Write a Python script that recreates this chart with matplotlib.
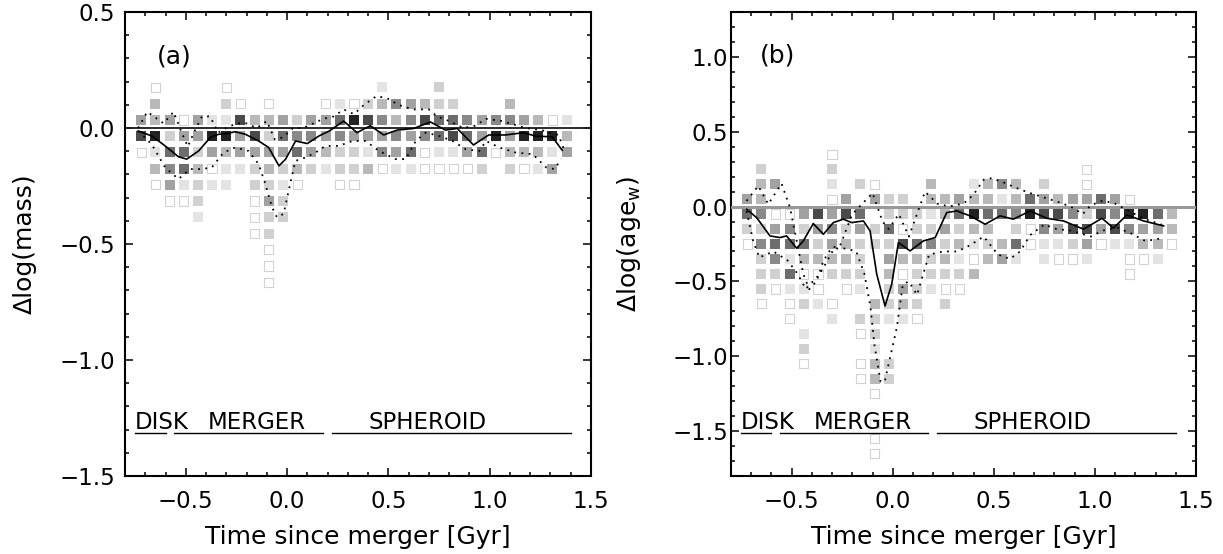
import numpy as np
import matplotlib.pyplot as plt
from matplotlib.ticker import MultipleLocator, FuncFormatter

plt.rcParams['font.family'] = 'DejaVu Sans'

# bin centres of the 2D histograms
time_bins = [-0.72, -0.65, -0.58, -0.51, -0.44, -0.37, -0.30, -0.23, -0.16, -0.09,
             -0.02, 0.05, 0.12, 0.19, 0.26, 0.33, 0.40, 0.47, 0.54, 0.61, 0.68,
             0.75, 0.82, 0.89, 0.96, 1.03, 1.10, 1.17, 1.24, 1.31, 1.38]
mass_bins = [0.175, 0.105, 0.035, -0.035, -0.105, -0.175, -0.245, -0.315,
             -0.385, -0.455, -0.525, -0.595, -0.665]
age_bins = [0.35, 0.25, 0.15, 0.05, -0.05, -0.15, -0.25, -0.35, -0.45, -0.55, -0.65,
            -0.75, -0.85, -0.95, -1.05, -1.15, -1.25, -1.35, -1.45, -1.55, -1.65]

# grey level of each cell (0 empty, 1 open square, 2..9 light -> dark)
mass_levels = [
    [0,1,0,0,0,0,1,0,0,0,0,0,0,0,0,0,0,2,0,0,0,3,0,0,0,0,0,0,0,0,0],
    [0,4,0,0,0,0,3,1,0,1,0,0,0,1,2,1,3,4,6,5,4,3,3,0,0,0,4,0,0,0,0],
    [5,4,5,1,5,2,2,8,4,4,5,3,5,5,7,9,8,6,4,6,8,7,7,6,5,6,6,5,4,1,2],
    [8,9,3,5,5,9,9,5,8,3,7,6,6,5,6,5,5,5,6,5,6,7,8,7,5,9,5,9,9,9,4],
    [1,2,7,7,3,5,4,5,5,5,5,7,5,4,3,3,2,6,5,7,1,2,2,5,7,1,4,4,4,2,5],
    [0,4,6,7,4,1,2,2,3,4,3,4,3,2,3,3,4,1,2,2,1,1,1,1,3,0,3,1,2,5,0],
    [0,1,5,2,3,2,2,0,3,3,2,1,0,0,1,1,0,0,0,0,0,0,0,0,0,0,0,0,0,0,0],
    [0,0,1,1,3,0,0,0,1,5,3,0,0,0,0,0,0,0,0,0,0,0,0,0,0,0,0,0,0,0,0],
    [0,0,0,0,2,0,0,0,1,3,3,0,0,0,0,0,0,0,0,0,0,0,0,0,0,0,0,0,0,0,0],
    [0,0,0,0,0,0,0,0,1,3,0,0,0,0,0,0,0,0,0,0,0,0,0,0,0,0,0,0,0,0,0],
    [0,0,0,0,0,0,0,0,0,1,0,0,0,0,0,0,0,0,0,0,0,0,0,0,0,0,0,0,0,0,0],
    [0,0,0,0,0,0,0,0,0,1,0,0,0,0,0,0,0,0,0,0,0,0,0,0,0,0,0,0,0,0,0],
    [0,0,0,0,0,0,0,0,0,1,0,0,0,0,0,0,0,0,0,0,0,0,0,0,0,0,0,0,0,0,0],
]
age_levels = [
    [0,0,0,0,0,0,1,0,0,0,0,0,0,0,0,0,0,0,0,0,0,0,0,0,0,0,0,0,0,0,0],
    [0,3,0,0,0,0,3,0,0,0,0,0,0,0,0,0,0,0,0,0,0,0,0,0,1,0,0,0,0,0,0],
    [0,4,5,0,0,0,2,0,3,1,0,0,0,4,0,0,2,4,6,4,0,3,0,0,1,0,0,0,0,0,0],
    [5,4,0,0,0,0,1,5,0,5,3,3,0,4,4,5,4,4,2,4,7,5,4,5,5,7,5,1,0,0,0],
    [7,6,1,1,5,8,5,8,7,0,3,3,3,2,4,7,9,7,7,6,9,8,8,6,3,8,6,9,9,7,4],
    [3,3,5,6,3,5,6,3,5,3,7,1,3,3,5,3,4,4,0,3,1,6,5,8,8,5,8,6,5,5,4],
    [1,6,7,7,7,3,5,4,3,3,3,8,7,6,3,4,2,3,4,7,1,2,2,3,5,1,2,2,4,4,1],
    [0,3,6,2,4,4,4,4,3,0,5,4,4,3,4,2,1,4,5,2,0,2,1,1,2,0,0,1,1,2,0],
    [0,3,3,7,1,1,3,3,3,0,4,1,3,3,3,3,4,0,0,0,0,0,0,0,0,0,0,1,0,0,0],
    [0,3,1,2,2,1,0,1,2,0,3,5,3,2,1,1,0,0,0,0,0,0,0,0,0,0,0,0,0,0,0],
    [0,1,0,1,3,2,1,0,0,4,3,4,3,0,3,0,0,0,0,0,0,0,0,0,0,0,0,0,0,0,0],
    [0,0,0,1,0,0,2,0,3,3,2,2,1,0,0,0,0,0,0,0,0,0,0,0,0,0,0,0,0,0,0],
    [0,0,0,0,2,0,0,0,1,3,0,0,0,0,0,0,0,0,0,0,0,0,0,0,0,0,0,0,0,0,0],
    [0,0,0,0,3,0,0,0,0,2,0,0,0,0,0,0,0,0,0,0,0,0,0,0,0,0,0,0,0,0,0],
    [0,0,0,0,1,0,0,0,1,4,3,0,0,0,0,0,0,0,0,0,0,0,0,0,0,0,0,0,0,0,0],
    [0,0,0,0,0,0,0,0,1,4,3,0,0,0,0,0,0,0,0,0,0,0,0,0,0,0,0,0,0,0,0],
    [0,0,0,0,0,0,0,0,0,1,0,0,0,0,0,0,0,0,0,0,0,0,0,0,0,0,0,0,0,0,0],
    [0,0,0,0,0,0,0,0,0,0,0,0,0,0,0,0,0,0,0,0,0,0,0,0,0,0,0,0,0,0,0],
    [0,0,0,0,0,0,0,0,0,1,0,0,0,0,0,0,0,0,0,0,0,0,0,0,0,0,0,0,0,0,0],
    [0,0,0,0,0,0,0,0,0,1,0,0,0,0,0,0,0,0,0,0,0,0,0,0,0,0,0,0,0,0,0],
    [0,0,0,0,0,0,0,0,0,1,0,0,0,0,0,0,0,0,0,0,0,0,0,0,0,0,0,0,0,0,0],
]

# median and spread curves, panel (a)
mass_med_t = [-0.735, -0.668, -0.602, -0.536, -0.495, -0.437, -0.379, -0.338, -0.297, -0.256,
              -0.206, -0.140, -0.091, -0.040, -0.007, 0.042, 0.100, 0.158, 0.208, 0.279,
              0.345, 0.411, 0.477, 0.543, 0.625, 0.708, 0.782, 0.840, 0.920, 0.995,
              1.078, 1.169, 1.226, 1.309, 1.358]
mass_med = [-0.013, -0.034, -0.077, -0.124, -0.134, -0.099, -0.041, -0.027, -0.024, -0.016,
            -0.027, -0.056, -0.084, -0.163, -0.134, -0.056, -0.067, -0.034, -0.013, 0.030,
            -0.020, 0.010, -0.030, -0.009, -0.002, 0.026, -0.009, -0.002, -0.073, -0.030,
            -0.030, -0.020, -0.035, -0.038, -0.096]
mass_hi_t = [-0.735, -0.69, -0.65, -0.61, -0.56, -0.52, -0.49, -0.46, -0.42, -0.38,
             -0.34, -0.30, -0.25, -0.20, -0.15, -0.10, -0.06, -0.02, 0.03, 0.08,
             0.13, 0.18, 0.23, 0.28, 0.33, 0.38, 0.44, 0.49, 0.55, 0.62, 0.70, 0.74,
             0.80, 0.87, 0.93, 0.98, 1.06, 1.12, 1.18, 1.26, 1.34, 1.37]
mass_hi = [0.0, 0.07, 0.045, 0.02, 0.07, -0.02, -0.08, -0.02, 0.05, 0.05,
           -0.02, 0.0, 0.02, 0.02, 0.0, 0.03, -0.05, -0.04, 0.0, 0.0,
           0.02, 0.04, 0.05, 0.08, 0.06, 0.10, 0.137, 0.13, 0.10, 0.08, 0.08, 0.05,
           0.03, 0.0, 0.01, 0.04, 0.03, 0.015, 0.0, -0.01, -0.03, -0.10]
mass_lo_t = [-0.734, -0.668, -0.602, -0.536, -0.479, -0.421, -0.371, -0.314, -0.256, -0.190,
             -0.140, -0.107, -0.074, -0.050, -0.017, 0.008, 0.041, 0.091, 0.140, 0.190,
             0.256, 0.322, 0.388, 0.454, 0.536, 0.586, 0.635, 0.685, 0.751, 0.817,
             0.883, 0.949, 0.982, 1.048, 1.130, 1.213, 1.279, 1.320, 1.353]
mass_lo = [-0.013, -0.070, -0.170, -0.220, -0.177, -0.177, -0.170, -0.106, -0.084, -0.099,
           -0.156, -0.242, -0.342, -0.385, -0.370, -0.270, -0.142, -0.127, -0.106, -0.077,
           -0.077, -0.056, -0.056, -0.099, -0.134, -0.134, -0.056, -0.020, -0.034, -0.056,
           -0.092, -0.099, -0.056, -0.084, -0.106, -0.113, -0.170, -0.177, -0.134]

# panel (b)
age_med_t = [-0.722, -0.673, -0.607, -0.558, -0.525, -0.475, -0.442, -0.393, -0.343, -0.294,
             -0.244, -0.203, -0.145, -0.112, -0.079, -0.038, -0.005, 0.028, 0.086, 0.152,
             0.210, 0.267, 0.317, 0.383, 0.457, 0.531, 0.597, 0.680, 0.762, 0.845,
             0.944, 1.035, 1.092, 1.158, 1.241, 1.340]
age_med = [-0.018, -0.074, -0.196, -0.207, -0.196, -0.278, -0.229, -0.113, -0.185, -0.107,
           -0.084, -0.107, -0.096, -0.162, -0.452, -0.664, -0.519, -0.241, -0.296, -0.229,
           -0.207, -0.040, -0.029, -0.062, -0.118, -0.062, -0.084, -0.029, -0.078, -0.096,
           -0.151, -0.078, -0.144, -0.056, -0.096, -0.129]
age_hi_t = [-0.723, -0.665, -0.616, -0.550, -0.508, -0.475, -0.442, -0.413, -0.376, -0.343,
            -0.302, -0.261, -0.20, -0.10, -0.05, -0.02, 0.03, 0.08, 0.12, 0.16,
            0.22, 0.28, 0.35, 0.40, 0.45, 0.49, 0.55, 0.62, 0.68, 0.75, 0.82, 0.88,
            0.94, 0.98, 1.04, 1.10, 1.17, 1.24, 1.33]
age_hi = [0.038, 0.138, 0.016, 0.154, -0.007, -0.229, -0.452, -0.552, -0.497, -0.363,
          -0.274, -0.263, -0.05, 0.09, -0.10, -0.15, -0.05, -0.20, -0.05, 0.10,
          0.02, 0.0, 0.02, 0.08, 0.18, 0.19, 0.16, 0.12, 0.09, 0.06, 0.03, 0.0,
          -0.05, 0.01, 0.04, 0.02, -0.03, -0.08, -0.12]
age_lo_t = [-0.723, -0.69, -0.66, -0.59, -0.52, -0.47, -0.43, -0.36, -0.29, -0.23,
            -0.18, -0.14, -0.11, -0.09, -0.06, -0.04, -0.01, 0.02, 0.05, 0.08,
            0.12, 0.18, 0.25, 0.32, 0.38, 0.45, 0.52, 0.58, 0.63, 0.68, 0.75,
            0.81, 0.88, 0.93, 0.98, 1.04, 1.11, 1.18, 1.25, 1.34]
age_lo = [-0.03, -0.23, -0.34, -0.30, -0.36, -0.45, -0.55, -0.45, -0.28, -0.28,
          -0.30, -0.45, -0.67, -0.93, -1.17, -1.17, -0.99, -0.81, -0.52, -0.50,
          -0.59, -0.32, -0.30, -0.30, -0.26, -0.20, -0.32, -0.35, -0.30, -0.19, -0.12,
          -0.15, -0.16, -0.18, -0.20, -0.16, -0.14, -0.18, -0.23, -0.21]

phase_names = ['DISK', 'MERGER', 'SPHEROID']
phase_start = [-0.75, -0.56, 0.22]
phase_end = [-0.60, 0.175, 1.40]
phase_text_x = [-0.75, -0.39, 0.40]

greys = {2: '#e3e3e3', 3: '#d0d0d0', 4: '#b9b9b9', 5: '#a2a2a2', 6: '#898989',
         7: '#6d6d6d', 8: '#4a4a4a', 9: '#222222'}


def draw_cells(ax, ybins, levels):
    for yv, row in zip(ybins, levels):
        for tv, lev in zip(time_bins, row):
            if lev == 1:
                ax.scatter(tv, yv, s=44, marker='s', facecolor='none',
                           edgecolor='#d2d2d2', linewidths=0.8, zorder=2)
            elif lev > 1:
                ax.scatter(tv, yv, s=52, marker='s', color=greys[lev],
                           linewidths=0, zorder=2)


def style_axes(ax, ylim):
    ax.set_xlim(-0.8, 1.5)
    ax.set_ylim(*ylim)
    ax.xaxis.set_major_locator(MultipleLocator(0.5))
    ax.xaxis.set_minor_locator(MultipleLocator(0.1))
    ax.yaxis.set_major_locator(MultipleLocator(0.5))
    ax.yaxis.set_minor_locator(MultipleLocator(0.1))
    fmt = FuncFormatter(lambda v, p: ('%.1f' % v).replace('-', '\u2212'))
    ax.xaxis.set_major_formatter(fmt)
    ax.yaxis.set_major_formatter(fmt)
    ax.tick_params(which='both', direction='in', top=True, right=True,
                   labelsize=16.5, width=1.1)
    ax.tick_params(which='major', length=6)
    ax.tick_params(which='minor', length=3.2)
    ax.tick_params(axis='x', pad=10)
    for sp in ax.spines.values():
        sp.set_linewidth(1.5)
    ax.set_xlabel('Time since merger [Gyr]', fontsize=18)
    ax.xaxis.set_label_coords(0.5, -0.105)


def draw_phases(ax):
    tr = ax.get_xaxis_transform()
    for name, t0, t1, tx in zip(phase_names, phase_start, phase_end, phase_text_x):
        ax.plot([t0, t1], [0.093, 0.093], color='black', lw=1.0, transform=tr)
        ax.text(tx, 0.101, name, fontsize=16.5, transform=tr, ha='left',
                va='baseline')


dots = (0, (1, 3))

fig = plt.figure(figsize=(12.23, 5.54), dpi=100)
ax1 = fig.add_axes([0.1022, 0.1408, 0.3810, 0.8375])
ax2 = fig.add_axes([0.5977, 0.1408, 0.3802, 0.8375])

# panel (a)
draw_cells(ax1, mass_bins, mass_levels)
ax1.axhline(0, color='#1a1a1a', lw=1.3, zorder=3)
ax1.plot(mass_med_t, mass_med, color='black', lw=1.2, zorder=4)
ax1.plot(mass_hi_t, mass_hi, color='black', lw=1.3, ls=dots, zorder=4)
ax1.plot(mass_lo_t, mass_lo, color='black', lw=1.3, ls=dots, zorder=4)
style_axes(ax1, (-1.5, 0.5))
ax1.tick_params(axis='y', pad=7)
ax1.set_ylabel('\u0394log(mass)', fontsize=18)
ax1.yaxis.set_label_coords(-0.19, 0.5)
ax1.text(0.105, 0.905, '(a)', transform=ax1.transAxes, fontsize=18,
         ha='center', va='center')
draw_phases(ax1)

# panel (b)
draw_cells(ax2, age_bins, age_levels)
ax2.axhline(0, color='#999999', lw=2.2, zorder=3)
ax2.plot(age_med_t, age_med, color='black', lw=1.2, zorder=4)
ax2.plot(age_hi_t, age_hi, color='black', lw=1.3, ls=dots, zorder=4)
ax2.plot(age_lo_t, age_lo, color='black', lw=1.3, ls=dots, zorder=4)
style_axes(ax2, (-1.8, 1.3))
ax2.tick_params(axis='y', pad=2)
ax2.set_ylabel('\u0394log(age$_\\mathregular{w}$)', fontsize=18)
ax2.yaxis.set_label_coords(-0.19, 0.5)
ax2.text(0.101, 0.907, '(b)', transform=ax2.transAxes, fontsize=18,
         ha='center', va='center')
draw_phases(ax2)

fig.savefig('out.png', dpi=100)
